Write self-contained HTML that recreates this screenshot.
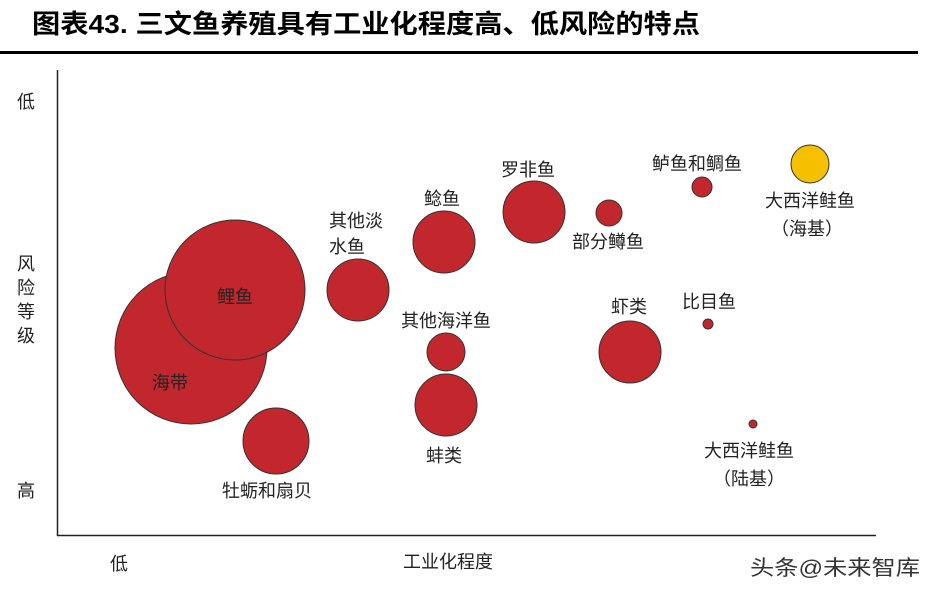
<!DOCTYPE html><html><head><meta charset="utf-8"><style>body{margin:0;background:#fff}svg text{font-family:"Liberation Sans","Noto Sans CJK SC",sans-serif;fill:#222}</style></head><body>
<svg width="938" height="595" xmlns="http://www.w3.org/2000/svg">
<text x="32" y="33" font-size="26" font-weight="bold" textLength="668" lengthAdjust="spacingAndGlyphs" style="fill:#000">图表43. 三文鱼养殖具有工业化程度高、低风险的特点</text>
<rect x="0" y="51" width="918" height="3" fill="#000"/>
<line x1="57.5" y1="70" x2="57.5" y2="536" stroke="#222" stroke-width="1.5"/>
<line x1="57" y1="535.5" x2="876" y2="535.5" stroke="#222" stroke-width="1.5"/>
<g font-size="18">
<text x="17" y="108">低</text>
<text x="17" y="270">风</text><text x="17" y="294">险</text><text x="17" y="318">等</text><text x="17" y="342">级</text>
<text x="17" y="497">高</text>
<text x="110" y="570">低</text>
<text x="403" y="568">工业化程度</text>
<text x="750" y="575" font-size="21" textLength="170" lengthAdjust="spacingAndGlyphs" style="fill:#333">头条@未来智库</text>
</g>
<g fill="#C1272D" stroke="#333" stroke-width="1">
<circle cx="191" cy="348" r="76"/>
<circle cx="235" cy="290" r="70"/>
<circle cx="276" cy="441" r="33"/>
<circle cx="358" cy="290" r="31"/>
<circle cx="444" cy="242" r="31"/>
<circle cx="446" cy="352" r="19"/>
<circle cx="446" cy="405" r="31"/>
<circle cx="534" cy="212" r="31"/>
<circle cx="609" cy="213" r="13"/>
<circle cx="630" cy="352" r="31"/>
<circle cx="702" cy="187" r="10"/>
<circle cx="708" cy="324" r="5"/>
<circle cx="753" cy="424" r="4"/>
<circle cx="810" cy="164" r="19" fill="#F5C000"/>
</g>
<g font-size="18">
<text x="152" y="389">海带</text>
<text x="217" y="303">鲤鱼</text>
<text x="222" y="497">牡蛎和扇贝</text>
<text x="329" y="227">其他淡</text><text x="329" y="253">水鱼</text>
<text x="424" y="205">鲶鱼</text>
<text x="401" y="327">其他海洋鱼</text>
<text x="426" y="462">蚌类</text>
<text x="501" y="176">罗非鱼</text>
<text x="572" y="248">部分鳟鱼</text>
<text x="611" y="313">虾类</text>
<text x="652" y="170">鲈鱼和鲷鱼</text>
<text x="682" y="308">比目鱼</text>
<text x="765" y="207">大西洋鲑鱼</text><text x="771" y="235">（海基）</text>
<text x="704" y="457">大西洋鲑鱼</text><text x="713" y="485">（陆基）</text>
</g>
</svg></body></html>
